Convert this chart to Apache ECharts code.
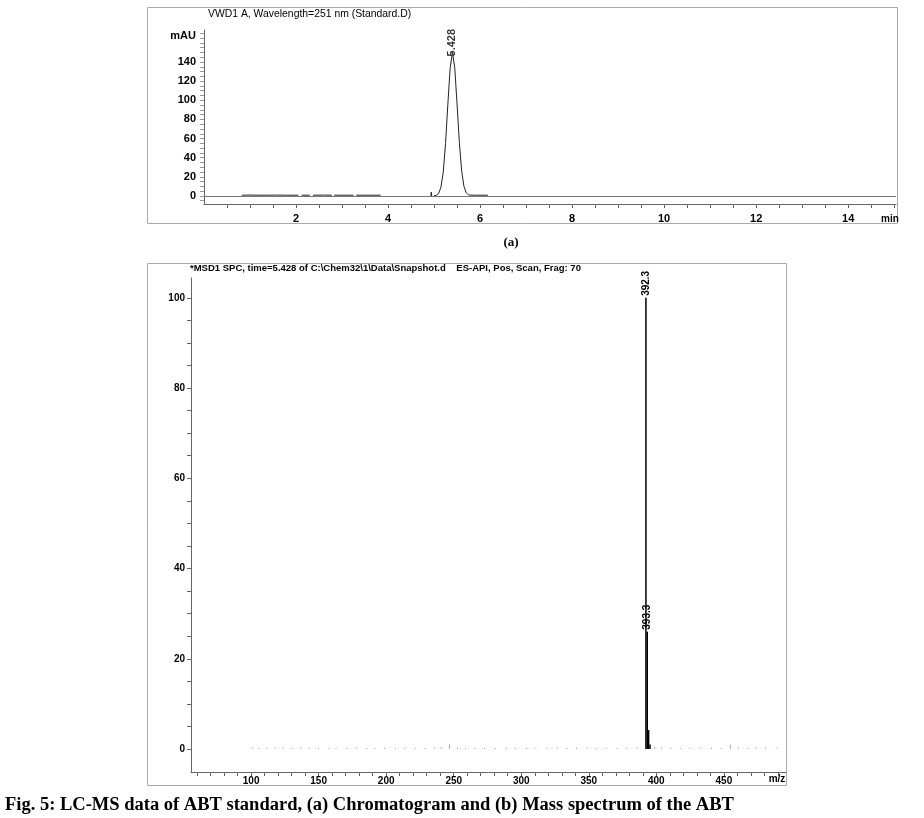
<!DOCTYPE html>
<html><head><meta charset="utf-8">
<script src="https://cdn.jsdelivr.net/npm/echarts@6/dist/echarts.min.js"></script>
<style>html,body{margin:0;padding:0;background:#fff}#c{width:924px;height:818px}</style>
</head><body><div id="c"></div>
<script>
// ---- (a) chromatogram data ----
const chromTime = [0.82,1.0,1.2,1.4,1.6,1.8,2.05,null,2.12,2.3,null,2.37,2.6,2.78,null,2.83,3.0,3.25,null,3.31,3.5,3.7,3.84,null,
  4.93,4.94,4.95,null,5.0,5.05,5.1,5.15,5.2,5.25,5.3,5.35,5.4,5.45,5.5,5.55,5.6,5.65,5.7,5.75,5.8,5.9,6.0,6.17];
const chromAbs  = [0.8,0.9,0.8,0.8,0.9,0.8,0.8,null,0.8,0.8,null,0.8,0.9,0.8,null,0.8,0.8,0.8,null,0.8,0.8,0.8,0.8,null,
  0,4,0,null,0.3,0.7,2.7,9.3,25,55,96,134,150,134,96,56,26,10,3.2,1.2,0.8,0.8,0.8,0.8];
const peakLabelA = '5.428';
const peakTimeA = 5.4, peakAbsA = 150;
const chromXTicks = [2,4,6,8,10,12,14];
const chromYTicks = [0,20,40,60,80,100,120,140];

// ---- (b) mass spectrum data ----
const msMz   = [392.3, 393.3, 394.3, 395.3];
const msInt  = [100, 26, 4.2, 1.0];
const msLab  = ['392.3', '393.3', '', ''];
const noiseMz  = [101,106,112,118,124,131,137,143,150,158,163,171,178,186,192,199,207,214,222,229,236,241,247,253,259,266,273,281,289,296,304,311,319,327,334,341,349,356,363,371,378,386,399,404,411,418,425,433,441,448,455,461,468,474,481,489];
const noiseInt = [0.3,0.2,0.3,0.2,0.3,0.2,0.2,0.3,0.2,0.3,0.2,0.2,0.3,0.2,0.2,0.3,0.2,0.3,0.2,0.2,0.3,0.4,1.0,0.3,0.2,0.3,0.2,0.2,0.3,0.2,0.3,0.2,0.2,0.3,0.2,0.3,0.2,0.2,0.3,0.2,0.2,0.3,0.5,0.3,0.3,0.2,0.3,0.2,0.3,0.2,1.0,0.3,0.2,0.3,0.3,0.2];
const msXTicks = [100,150,200,250,300,350,400,450];
const msYTicks = [0,20,40,60,80,100];

function range(a,b,s){const r=[];for(let v=a;v<=b+1e-9;v+=s)r.push(+v.toFixed(3));return r;}

const chromData = chromTime.map((t,i)=> t===null ? ['-','-'] : [t, chromAbs[i]]);
const msData = msMz.map((m,i)=>({value:[m,msInt[i]], label:{show:!!msLab[i], formatter:msLab[i]}}));
const noiseData = noiseMz.map((m,i)=>[m,noiseInt[i]]);

const axisCol = '#666';
const lblFont = {color:'#000', fontFamily:'Liberation Sans', fontWeight:'bold'};

const chart = echarts.init(document.getElementById('c'), null, {renderer:'canvas'});
chart.setOption({
  animation:false,
  backgroundColor:'#fff',
  grid:[
    {left:204, top:30, width:692, height:174},
    {left:191, top:278, width:595, height:494}
  ],
  xAxis:[
    {gridIndex:0, type:'value', min:0, max:15.04,
     axisLine:{onZero:false, lineStyle:{color:axisCol,width:1}},
     axisTick:{customValues:range(0.5,15,0.5), length:4, lineStyle:{color:axisCol}},
     axisLabel:{customValues:chromXTicks, fontSize:11, margin:9, ...lblFont},
     splitLine:{show:false}},
    {gridIndex:1, type:'value', min:55.5, max:496,
     axisLine:{onZero:false, lineStyle:{color:axisCol,width:1}},
     axisTick:{customValues:range(60,490,10), length:4, lineStyle:{color:axisCol}},
     axisLabel:{customValues:msXTicks, fontSize:10, margin:4, ...lblFont},
     splitLine:{show:false}}
  ],
  yAxis:[
    {gridIndex:0, type:'value', min:-8.4, max:173.5,
     axisLine:{show:true, onZero:false, lineStyle:{color:axisCol,width:1}},
     axisTick:{show:true, customValues:range(-5,170,5), length:4, lineStyle:{color:'#999'}},
     axisLabel:{customValues:chromYTicks, fontSize:11, margin:8, ...lblFont},
     splitLine:{show:false}},
    {gridIndex:1, type:'value', min:-5.1, max:104.4,
     axisLine:{show:true, onZero:false, lineStyle:{color:axisCol,width:1}},
     axisTick:{show:true, customValues:range(0,100,5), length:4, lineStyle:{color:axisCol}},
     axisLabel:{customValues:msYTicks, fontSize:10, margin:6, ...lblFont},
     splitLine:{show:false}}
  ],
  series:[
    {type:'line', xAxisIndex:0, yAxisIndex:0, data:chromData, showSymbol:false, connectNulls:false,
     lineStyle:{color:'#222', width:1}, z:3,
     markLine:{silent:true, symbol:'none', label:{show:false}, lineStyle:{color:'#777', width:1, type:'solid'},
       data:[{yAxis:0}]}},
    {type:'scatter', xAxisIndex:0, yAxisIndex:0, data:[[peakTimeA, peakAbsA]], symbolSize:0,
     label:{show:true, position:'top', distance:-4, rotate:90, align:'left', verticalAlign:'middle',
       formatter:peakLabelA, fontSize:11, color:'#000', fontFamily:'Liberation Sans', fontWeight:'bold'}},
    {type:'bar', xAxisIndex:1, yAxisIndex:1, data:noiseData, barWidth:1, itemStyle:{color:'#aaa'}, barGap:'-100%'},
    {type:'bar', xAxisIndex:1, yAxisIndex:1, data:msData, barWidth:1.5, itemStyle:{color:'#000'}, barGap:'-100%',
     label:{position:'top', distance:2, rotate:90, align:'left', verticalAlign:'middle', fontSize:10,
       color:'#000', fontFamily:'Liberation Sans', fontWeight:'bold'}}
  ],
  graphic:[
    {type:'rect', shape:{x:147.5, y:7.5, width:750, height:216}, style:{fill:null, stroke:'#aaa', lineWidth:1}, silent:true},
    {type:'rect', shape:{x:147.5, y:263.5, width:639, height:522}, style:{fill:null, stroke:'#aaa', lineWidth:1}, silent:true},
    {type:'text', left:208, top:9, style:{text:'VWD1 A, Wavelength=251 nm (Standard.D)', font:'10.4px "Liberation Sans"', fill:'#000'}},
    {type:'text', x:196, y:36, style:{text:'mAU', font:'bold 11px "Liberation Sans"', fill:'#000', align:'right', verticalAlign:'middle'}},
    {type:'text', x:890, y:219, style:{text:'min', font:'bold 10px "Liberation Sans"', fill:'#000', align:'center', verticalAlign:'middle'}},
    {type:'text', x:511, y:243, style:{text:'(a)', font:'bold 13px "Liberation Serif"', fill:'#000', align:'center', verticalAlign:'middle'}},
    {type:'text', left:190, top:263, style:{text:'*MSD1 SPC, time=5.428 of C:\\Chem32\\1\\Data\\Snapshot.d    ES-API, Pos, Scan, Frag: 70', font:'bold 9.5px "Liberation Sans"', fill:'#000'}},
    {type:'text', x:777, y:779, style:{text:'m/z', font:'bold 10px "Liberation Sans"', fill:'#000', align:'center', verticalAlign:'middle'}},
    {type:'text', left:5, top:796, style:{text:'Fig. 5: LC-MS data of ABT standard, (a) Chromatogram and (b) Mass spectrum of the ABT', font:'bold 18.5px "Liberation Serif"', fill:'#000'}}
  ]
});
</script></body></html>
